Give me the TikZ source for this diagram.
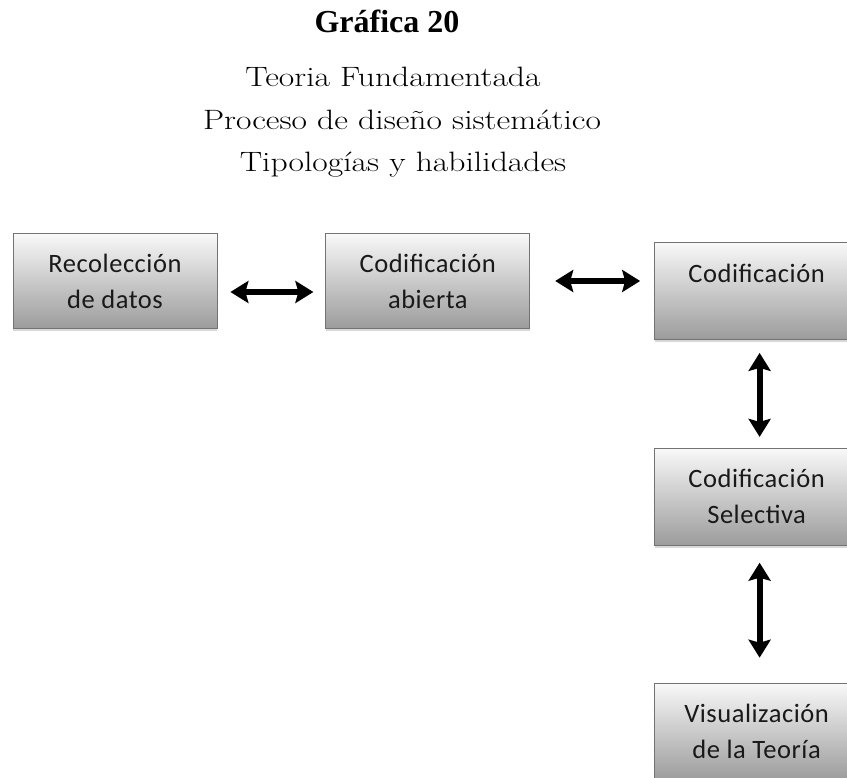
\documentclass[tikz,border=0pt]{standalone}
\usepackage{fontspec}
\newfontfamily\boxfont[LetterSpace=2]{Carlito}
\newfontfamily\titlefont{Liberation Serif}
\newfontfamily\subfont[FakeStretch=1.2]{Latin Modern Roman}
\usetikzlibrary{positioning,arrows.meta,shadows}

\begin{document}
\begin{tikzpicture}[x=1pt,y=-1pt,>={Stealth[length=18pt,width=22pt,inset=3pt]},node distance=108pt]
  \tikzstyle{etapa}=[draw=gray!90!black, line width=0.8pt, top color=gray!5, bottom color=gray!78,
    minimum width=204pt, minimum height=95pt, align=center, text=black!90,
    font=\boxfont\fontsize{26.5}{36}\selectfont,
    drop shadow={shadow xshift=0pt, shadow yshift=-3pt, fill=gray!60, opacity=0.5}]
  \tikzstyle{flecha}=[<->, line width=6pt]
  \tikzstyle{rotulo}=[anchor=base, font=\subfont\fontsize{28}{30}\selectfont]

  \useasboundingbox (0,0) rectangle (847,778);

  \node[rotulo, font=\titlefont\bfseries\fontsize{32}{34}\selectfont] (titulo) at (387,33) {Gráfica 20};
  \node[rotulo] (lin1) at (393,87) {Teoria Fundamentada};
  \node[rotulo] (lin2) at (402,130) {Proceso de diseño sistemático};
  \node[rotulo] (lin3) at (403,172) {Tipologías y habilidades};

  \node[etapa] (rec) at (115,281) {Recolección\\de datos};
  \node[etapa] (abierta) [right=108pt of rec] {Codificación\\abierta};
  \node[etapa, minimum height=97pt] (cod) [right=124pt of abierta, yshift=-10pt] {Codificación\\\phantom{x}};
  \node[etapa, minimum height=97pt] (sel) [below=108pt of cod] {Codificación\\Selectiva};
  \node[etapa, minimum height=97pt] (teoria) [below=137pt of sel] {Visualización\\de la Teoría};

  \draw[flecha, shorten <=13pt, shorten >=12pt] ([yshift=-11pt]rec.east) -- ([yshift=-11pt]abierta.west);
  \draw[flecha, shorten <=25pt, shorten >=14pt] (abierta.east) -- (abierta.east -| cod.west);
  \draw[flecha, shorten <=13pt, shorten >=11pt] ([xshift=3pt]cod.south) -- ([xshift=3pt]sel.north);
  \draw[flecha, shorten <=17pt, shorten >=25pt] ([xshift=3pt]sel.south) -- ([xshift=3pt]teoria.north);

\end{tikzpicture}
\end{document}
